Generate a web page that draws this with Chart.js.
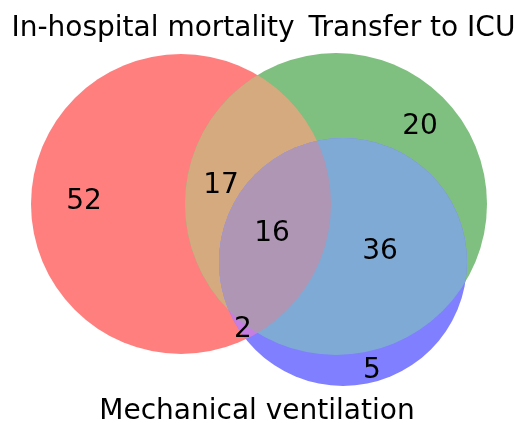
<!DOCTYPE html>
<html>
<head>
<meta charset="utf-8">
<script src="https://cdn.jsdelivr.net/npm/chart.js@4/dist/chart.umd.min.js"></script>
<style>
  html, body { margin: 0; padding: 0; background: #fff; }
  #venn { display: block; }
</style>
</head>
<body>
<canvas id="venn" width="518" height="423"></canvas>
<script>
// Set names and circle geometry (in diagram units)
const setNames = ['In-hospital mortality', 'Transfer to ICU', 'Mechanical ventilation'];
const setLabelX = [153, 412, 257];
const setLabelY = [36, 36, 419];
const circleX = [181, 336, 343];
const circleY = [204, 204, 262];
const circleR = [150, 151, 124];

// Region counts: A only, B only, A&B, C only, A&C, B&C, A&B&C
const regionCounts = [52, 20, 17, 5, 2, 36, 16];
const regionX = [84, 420, 221, 372, 243, 380, 272];
const regionY = [209, 134, 193, 378, 337, 259, 241];

// Layers drawn bottom to top: which circle, which circles it is clipped to, colour
const layerCircle = [0, 1, 1, 2, 2, 2, 2];
const layerClip = [[], [], [0], [], [0], [1], [0, 1]];
const layerColor = ['#ff7f7f', '#7fbf7f', '#d5aa7f', '#7f7fff', '#c67fe0', '#7faad5', '#af96b4'];

const FONT = '"DejaVu Sans", sans-serif';

function radiusPx(chart, r) {
    const s = chart.scales.x;
    return Math.abs(s.getPixelForValue(r) - s.getPixelForValue(0));
}

// clip a layer to the circles listed in its clipTo
const clipPlugin = {
    id: 'clipPlugin',
    beforeDatasetDraw(chart, args) {
        const ds = chart.data.datasets[args.index];
        const ctx = chart.ctx;
        ctx.save();
        (ds.clipTo || []).forEach(ci => {
            const x = chart.scales.x.getPixelForValue(circleX[ci]);
            const y = chart.scales.y.getPixelForValue(circleY[ci]);
            ctx.beginPath();
            ctx.arc(x, y, radiusPx(chart, circleR[ci]), 0, Math.PI * 2);
            ctx.clip();
        });
    },
    afterDatasetDraw(chart) {
        chart.ctx.restore();
    }
};

const labelPlugin = {
    id: 'labelPlugin',
    afterDatasetsDraw(chart) {
        const ctx = chart.ctx;
        const sx = chart.scales.x, sy = chart.scales.y;
        ctx.save();
        ctx.fillStyle = '#000';
        ctx.textAlign = 'center';
        ctx.textBaseline = 'alphabetic';
        ctx.font = '28px ' + FONT;
        regionCounts.forEach((v, i) => {
            ctx.fillText(String(v), sx.getPixelForValue(regionX[i]), sy.getPixelForValue(regionY[i]));
        });
        setNames.forEach((name, i) => {
            ctx.fillText(name, sx.getPixelForValue(setLabelX[i]), sy.getPixelForValue(setLabelY[i]));
        });
        ctx.restore();
    }
};

const datasets = layerCircle.map((ci, i) => ({
    label: 'layer' + i,
    data: [{ x: circleX[ci], y: circleY[ci] }],
    clipTo: layerClip[i],
    showLine: false,
    pointStyle: 'circle',
    pointBackgroundColor: layerColor[i],
    pointBorderWidth: 0,
    pointBorderColor: 'rgba(0,0,0,0)',
    pointRadius: ctx => radiusPx(ctx.chart, circleR[ci]),
    pointHoverRadius: ctx => radiusPx(ctx.chart, circleR[ci]),
    order: layerCircle.length - i,
    clip: false
}));

new Chart(document.getElementById('venn'), {
    type: 'scatter',
    data: { datasets },
    options: {
        responsive: false,
        animation: false,
        events: [],
        layout: { padding: 0 },
        plugins: {
            legend: { display: false },
            tooltip: { enabled: false },
            title: { display: false }
        },
        scales: {
            x: { type: 'linear', min: 0, max: 518, display: false },
            y: { type: 'linear', min: 0, max: 423, reverse: true, display: false }
        }
    },
    plugins: [clipPlugin, labelPlugin]
});
</script>
</body>
</html>
